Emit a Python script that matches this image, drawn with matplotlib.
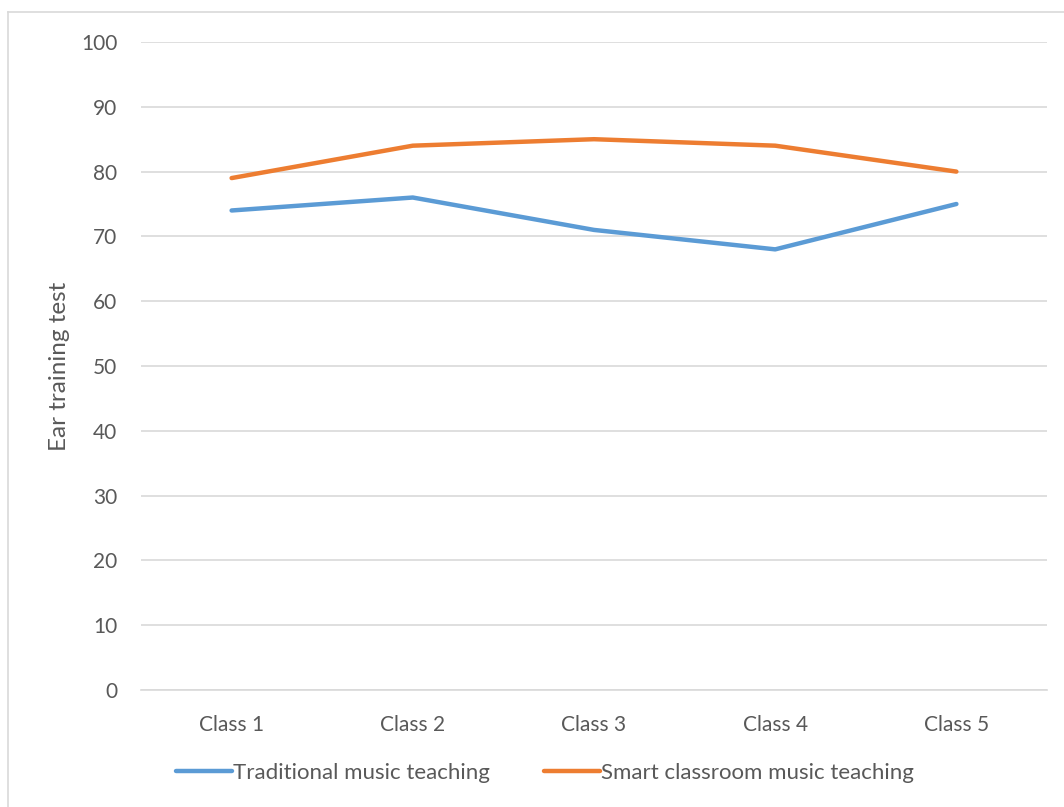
import matplotlib
matplotlib.use("Agg")
import matplotlib.pyplot as plt
from matplotlib.lines import Line2D

classes = ["Class 1", "Class 2", "Class 3", "Class 4", "Class 5"]
traditional = [74, 76, 71, 68, 75]
smart = [79, 84, 85, 84, 80]
y_ticks = [0, 10, 20, 30, 40, 50, 60, 70, 80, 90, 100]

W, H = 1064, 807
plt.rcParams["font.family"] = ["Lato", "DejaVu Sans"]
text_color = "#595959"
fs = 15

fig = plt.figure(figsize=(W / 100, H / 100), dpi=100)
fig.patch.set_facecolor("white")

# chart-area frame (top and left edges visible)
fig.add_artist(Line2D([8 / W, 8 / W], [0, 1 - 12 / H], color="#D9D9D9", lw=1.2))
fig.add_artist(Line2D([8 / W, 1], [1 - 12 / H, 1 - 12 / H], color="#D9D9D9", lw=1.2))

ax = fig.add_axes([141 / W, 117 / H, (1047 - 141) / W, (690 - 42) / H])
x = list(range(len(classes)))
ax.plot(x, traditional, color="#5B9BD5", lw=3.2, solid_capstyle="round",
        solid_joinstyle="round", label="Traditional music teaching", zorder=3)
ax.plot(x, smart, color="#ED7D31", lw=3.2, solid_capstyle="round",
        solid_joinstyle="round", label="Smart classroom music teaching", zorder=3)

ax.set_xlim(-0.5, len(classes) - 0.5)
ax.set_ylim(0, 100)
ax.set_yticks(y_ticks)
ax.set_xticks(x)
ax.set_xticklabels(classes)
ax.yaxis.grid(True, color="#D9D9D9", lw=1.2)
ax.set_axisbelow(True)
for s in ["top", "right", "left"]:
    ax.spines[s].set_visible(False)
ax.spines["bottom"].set_color("#D9D9D9")
ax.spines["bottom"].set_linewidth(1.2)
ax.tick_params(axis="both", length=0, labelsize=fs, colors=text_color)
ax.tick_params(axis="y", pad=17)
ax.tick_params(axis="x", pad=18)

fig.text(60 / W, 1 - 366 / H, "Ear training test", rotation=90, ha="center",
         va="center", fontsize=17.5, color=text_color)

leg = fig.legend(loc="center", bbox_to_anchor=(545 / W, 1 - 773 / H), ncol=2,
                 frameon=False, fontsize=16, handlelength=2.55, handletextpad=0.05,
                 columnspacing=2.4)
for t in leg.get_texts():
    t.set_color(text_color)

fig.savefig("out.png", dpi=100)
